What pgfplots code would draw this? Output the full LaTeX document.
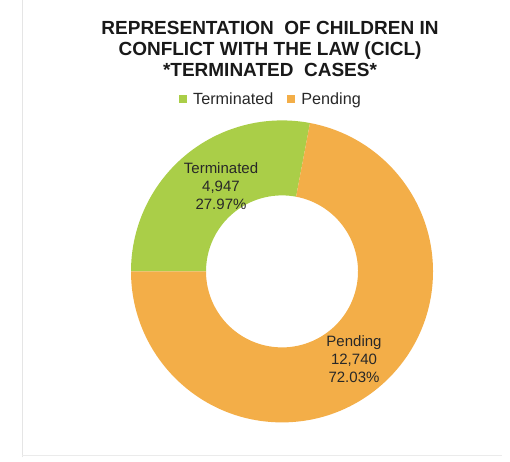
\documentclass[border=0pt]{standalone}
\usepackage{pgfplots}
\pgfplotsset{compat=1.18}
\usepackage{pgfplotstable}
\usepackage{fontspec}
\setmainfont{Liberation Sans}
\definecolor{cgreen}{RGB}{170,206,72}
\definecolor{corange}{RGB}{243,174,72}
\definecolor{ctext}{RGB}{40,40,40}
\pgfplotstableread{
label value
Terminated 4947
Pending 12740
}\cicldata
\begin{document}
\begin{tikzpicture}
\pgfplotstablegetelem{0}{value}\of\cicldata \pgfmathsetmacro\vT{\pgfplotsretval/1000}
\pgfplotstablegetelem{1}{value}\of\cicldata \pgfmathsetmacro\vP{\pgfplotsretval/1000}
\pgfmathsetmacro\angT{360*\vT/(\vT+\vP)}
\pgfmathsetmacro\aStart{180-\angT}
\begin{axis}[
  x=1bp, y=1bp, xmin=0, xmax=510, ymin=0, ymax=461,
  hide axis, clip=false,
  legend columns=2,
  legend style={draw=none, fill=none, at={(axis cs:271,362)}, anchor=center,
    font=\fontsize{16.2bp}{17bp}\selectfont\color{ctext},
    /tikz/every odd column/.append style={column sep=1bp},
    /tikz/every even column/.append style={column sep=12bp},
    inner sep=0pt},
]
\path (axis cs:0,0) rectangle (axis cs:510,461);
\draw[black!10, line width=0.8bp] (axis cs:22,4) -- (axis cs:22,461);
\draw[black!8, line width=0.8bp] (axis cs:22,6) -- (axis cs:502,6);
% Terminated slice
\fill[cgreen] (axis cs:282,190) ++(\aStart:151bp) arc[start angle=\aStart, end angle=180, radius=151bp]
   -- ++(0:75bp) arc[start angle=180, end angle=\aStart, radius=76bp] -- cycle;
% Pending slice
\fill[corange] (axis cs:282,190) ++(180:151bp) arc[start angle=180, end angle={\aStart+360}, radius=151bp]
   -- ++({\aStart+180}:75bp) arc[start angle={\aStart+360}, end angle=180, radius=76bp] -- cycle;
\addlegendimage{draw=none, legend image code/.code={\fill[cgreen, draw=none] (0bp,-4bp) rectangle (8bp,4bp); \path[draw=none, fill=none] (0bp,0bp) -- (11bp,0bp);}}
\addlegendentry{Terminated}
\addlegendimage{draw=none, legend image code/.code={\fill[corange, draw=none] (0bp,-4bp) rectangle (8bp,4bp); \path[draw=none, fill=none] (0bp,0bp) -- (11bp,0bp);}}
\addlegendentry{Pending}
\node[align=center, font=\fontsize{19bp}{21bp}\selectfont\bfseries, text=black!90] at (axis cs:270,412)
  {REPRESENTATION\ \ OF CHILDREN IN\\CONFLICT WITH THE LAW (CICL)\\*TERMINATED\ \ CASES*};
\node[align=center, font=\fontsize{15bp}{18bp}\selectfont, text=ctext] at (axis cs:221,275)
  {Terminated\\4,947\\27.97\%};
\node[align=center, font=\fontsize{15bp}{18bp}\selectfont, text=ctext] at (axis cs:354,102)
  {Pending\\12,740\\72.03\%};
\end{axis}
\end{tikzpicture}
\end{document}
